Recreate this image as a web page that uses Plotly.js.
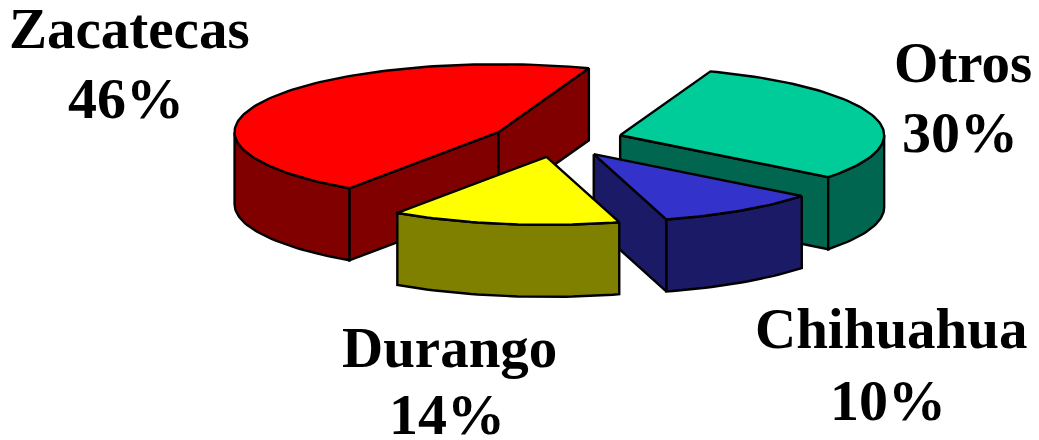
<!DOCTYPE html>
<html><head><meta charset="utf-8">
<script src="https://cdn.plot.ly/plotly-3.0.1.min.js"></script>
<style>html,body{margin:0;padding:0;background:#fff}#c{width:1039px;height:440px}</style>
</head><body><div id="c"></div>
<script>
const categories = ["Otros","Chihuahua","Durango","Zacatecas"];
const values = [30,10,14,46];
const topColors = ["#00CC99","#3333CC","#FFFF00","#FF0000"];
const sideColors = ["#006650","#1A1A66","#808000","#800000"];
const drawOrder = [3,0,1,2];
const labelAnchors = [[963,62,960,132],[891,328,888,400],[449,347,447,414],[129,28,126,98]];

const W=1039,H=440;
const cx=557,cy=140,rx=264,ry=68,depth=72,explode=65.7,ratio=0.26,startDeg=-70;
const total=values.reduce((a,b)=>a+b,0);
const rad=d=>d*Math.PI/180;
let traces=[];
function poly(pts,fill){
  traces.push({type:"scatter",mode:"lines",x:pts.map(p=>p[0]),y:pts.map(p=>p[1]),
    fill:"toself",fillcolor:fill,line:{color:"#000",width:2.4,shape:"linear"},hoverinfo:"skip",showlegend:false});
}
function arc(c,a0,a1,dz){
  const n=Math.max(2,Math.ceil(Math.abs(a1-a0)/1.5));const pts=[];
  for(let i=0;i<=n;i++){const a=rad(a0+(a1-a0)*i/n);pts.push([c[0]+rx*Math.cos(a),c[1]+ry*Math.sin(a)+dz]);}
  return pts;
}
let acc=startDeg;const slices=values.map(v=>{const a0=acc;acc+=v/total*360;const a1=acc;const m=rad((a0+a1)/2);
  return {a0,a1,c:[cx+explode*Math.cos(m),cy+explode*ratio*Math.sin(m)]};});
drawOrder.forEach(i=>{
  const s=slices[i];const c=s.c;
  // radial walls whose outward side faces the viewer
  [[s.a0,-1],[s.a1,1]].forEach(([a,sign])=>{
    const ny=Math.cos(rad(a))*sign;
    if(ny<=0) return;
    const p=[c[0]+rx*Math.cos(rad(a)),c[1]+ry*Math.sin(rad(a))];
    poly([c,p,[p[0],p[1]+depth],[c[0],c[1]+depth],c],sideColors[i]);
  });
  // outer wall: the part of the rim facing the viewer
  for(const k of [0,360]){
    const b0=Math.max(s.a0,k),b1=Math.min(s.a1,k+180);
    if(b1>b0){poly(arc(c,b0,b1,0).concat(arc(c,b1,b0,depth)).concat([arc(c,b0,b0,0)[0]]),sideColors[i]);}
  }
  // top
  poly([c].concat(arc(c,s.a0,s.a1,0)).concat([c]),topColors[i]);
});
const family='"Liberation Serif","Times New Roman",serif';
const annotations=[];
categories.forEach((n,i)=>{
  const [x1,y1,x2,y2]=labelAnchors[i];
  annotations.push({x:x1,y:y1,text:"<b>"+n+"</b>",showarrow:false,font:{family,size:57,color:"#000"},xanchor:"center",yanchor:"middle"});
  annotations.push({x:x2,y:y2,text:"<b>"+values[i]+"%</b>",showarrow:false,font:{family,size:58,color:"#000"},xanchor:"center",yanchor:"middle"});
});
Plotly.newPlot("c",traces,{
  width:W,height:H,margin:{l:0,r:0,t:0,b:0},paper_bgcolor:"#fff",plot_bgcolor:"#fff",showlegend:false,
  xaxis:{range:[0,W],visible:false,fixedrange:true},
  yaxis:{range:[H,0],visible:false,fixedrange:true},
  annotations
},{displayModeBar:false,staticPlot:true});
</script></body></html>
